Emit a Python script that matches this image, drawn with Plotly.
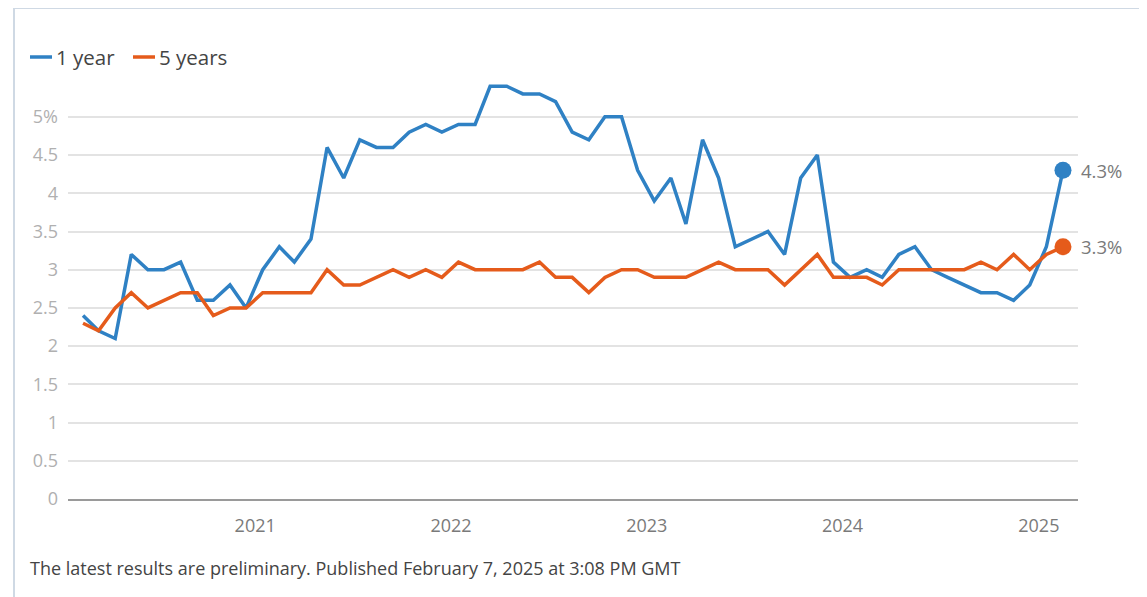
import plotly.graph_objects as go

# Monthly survey readings, Feb 2020 - Feb 2025 (plotted mid-month)
months = [f"{y}-{m:02d}-15" for y in range(2020, 2026) for m in range(1, 13)][1:62]

one_year = [2.4, 2.2, 2.1, 3.2, 3.0, 3.0, 3.1, 2.6, 2.6, 2.8, 2.5,
            3.0, 3.3, 3.1, 3.4, 4.6, 4.2, 4.7, 4.6, 4.6, 4.8, 4.9, 4.8,
            4.9, 4.9, 5.4, 5.4, 5.3, 5.3, 5.2, 4.8, 4.7, 5.0, 5.0, 4.3,
            3.9, 4.2, 3.6, 4.7, 4.2, 3.3, 3.4, 3.5, 3.2, 4.2, 4.5, 3.1,
            2.9, 3.0, 2.9, 3.2, 3.3, 3.0, 2.9, 2.8, 2.7, 2.7, 2.6, 2.8,
            3.3, 4.3]

five_years = [2.3, 2.2, 2.5, 2.7, 2.5, 2.6, 2.7, 2.7, 2.4, 2.5, 2.5,
              2.7, 2.7, 2.7, 2.7, 3.0, 2.8, 2.8, 2.9, 3.0, 2.9, 3.0, 2.9,
              3.1, 3.0, 3.0, 3.0, 3.0, 3.1, 2.9, 2.9, 2.7, 2.9, 3.0, 3.0,
              2.9, 2.9, 2.9, 3.0, 3.1, 3.0, 3.0, 3.0, 2.8, 3.0, 3.2, 2.9,
              2.9, 2.9, 2.8, 3.0, 3.0, 3.0, 3.0, 3.0, 3.1, 3.0, 3.2, 3.0,
              3.2, 3.3]

y_ticks = [0, 0.5, 1, 1.5, 2, 2.5, 3, 3.5, 4, 4.5, 5]
y_labels = ["0", "0.5", "1", "1.5", "2", "2.5", "3", "3.5", "4", "4.5", "5%"]
x_ticks = ["2021-01-01", "2022-01-01", "2023-01-01", "2024-01-01", "2025-01-01"]
x_labels = ["2021", "2022", "2023", "2024", "2025"]

BLUE = "#2f81c4"
ORANGE = "#e55b1b"
FONT = "Open Sans, sans-serif"

# page body adds an 8px margin, so work in shifted coordinates
OFF = 8
W, H = 1147, 597
L, T = 68 - OFF, 71 - OFF
R = W - (1078 - OFF)
B = H - (499 - OFF)


def px(x):
    return (x - OFF - L) / (W - L - R)


def py(y):
    return (H - B - (y - OFF)) / (H - T - B)


fig = go.Figure()
for name, vals, col in [("1 year", one_year, BLUE), ("5 years", five_years, ORANGE)]:
    fig.add_trace(go.Scatter(x=months, y=vals, mode="lines", name=name,
                             line=dict(color=col, width=3.5), showlegend=False))
    fig.add_trace(go.Scatter(x=[months[-1]], y=[vals[-1]], mode="markers",
                             marker=dict(color=col, size=17), cliponaxis=False,
                             showlegend=False, hoverinfo="skip"))
    fig.add_annotation(x=months[-1], y=vals[-1], text=f"{vals[-1]}%", showarrow=False,
                       xanchor="left", xshift=16, font=dict(size=18.5, color="#7a7a7a", family=FONT))

# legend drawn by hand (short line samples)
shapes = []
for x0, col in [(30, BLUE), (133, ORANGE)]:
    shapes.append(dict(type="line", xref="paper", yref="paper", x0=px(x0), x1=px(x0 + 22),
                       y0=py(57), y1=py(57), line=dict(color=col, width=3.5)))
# card border
shapes.append(dict(type="line", xref="paper", yref="paper", x0=px(14), x1=px(W + 10),
                   y0=py(8), y1=py(8), line=dict(color="#cfd9e4", width=2)))
shapes.append(dict(type="line", xref="paper", yref="paper", x0=px(14), x1=px(14),
                   y0=py(8), y1=py(H + 10), line=dict(color="#cfd9e4", width=2)))

for x0, txt in [(54, "1 year"), (157, "5 years")]:
    fig.add_annotation(xref="paper", yref="paper", x=px(x0), y=py(57), text=txt,
                       showarrow=False, xanchor="left", yanchor="middle",
                       font=dict(size=20.5, color="#444", family=FONT))

fig.add_annotation(xref="paper", yref="paper", x=px(28), y=py(568),
                   text="The latest results are preliminary. Published February 7, 2025 at 3:08 PM GMT",
                   showarrow=False, xanchor="left", yanchor="middle",
                   font=dict(size=18, color="#444", family=FONT))

fig.update_layout(
    width=W, height=H,
    margin=dict(l=L, r=R, t=T, b=B),
    paper_bgcolor="white", plot_bgcolor="white",
    font=dict(family=FONT),
    shapes=shapes,
    xaxis=dict(range=["2020-01-18", "2025-03-15"], tickvals=x_ticks, ticktext=x_labels,
               showgrid=False, zeroline=False, showline=True, linecolor="#9a9a9a", linewidth=2,
               ticks="", ticklabelstandoff=9, tickfont=dict(size=18, color="#7a7a7a")),
    yaxis=dict(range=[0, 5.6], tickvals=y_ticks, ticktext=y_labels,
               showgrid=True, gridcolor="#e3e3e3", gridwidth=2, zeroline=False,
               showline=False, ticks="", ticklabelstandoff=9,
               tickfont=dict(size=18, color="#b0b0b0")),
)

fig.write_html("out.html")
